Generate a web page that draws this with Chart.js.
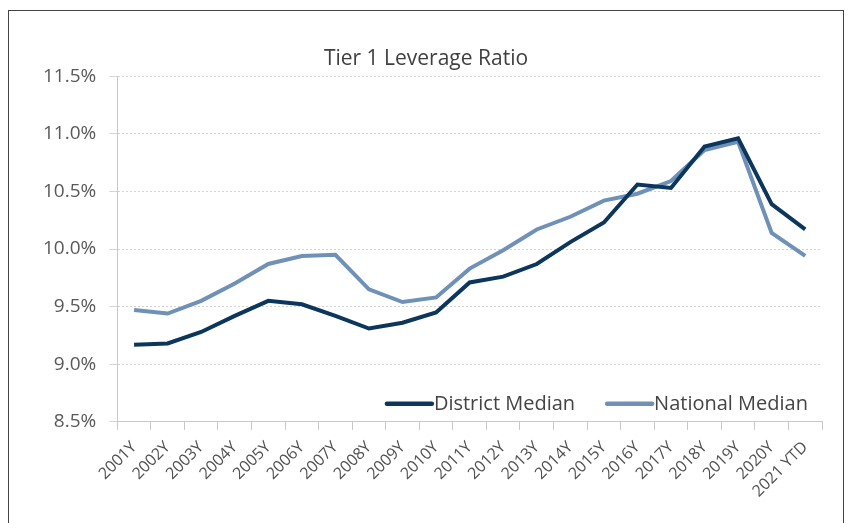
<!DOCTYPE html>
<html>
<head>
<meta charset="utf-8">
<script src="https://cdn.jsdelivr.net/npm/chart.js@4/dist/chart.umd.min.js"></script>
<style>
  html, body { margin: 0; padding: 0; background: #fff; }
  #frame { position: absolute; left: 8px; top: 10px; width: 836px; height: 540px; border: 1px solid #444; box-sizing: border-box; }
  #wrap { position: absolute; left: 0; top: 0; width: 856px; height: 523px; }
</style>
</head>
<body>
<div id="frame"></div>
<div id="wrap"><canvas id="myChart"></canvas></div>
<script>
var years = ["2001Y", "2002Y", "2003Y", "2004Y", "2005Y", "2006Y", "2007Y", "2008Y", "2009Y", "2010Y",
  "2011Y", "2012Y", "2013Y", "2014Y", "2015Y", "2016Y", "2017Y", "2018Y", "2019Y", "2020Y", "2021 YTD"];

var districtMedian = [9.17, 9.18, 9.28, 9.42, 9.55, 9.52, 9.42, 9.31, 9.36, 9.45,
  9.71, 9.76, 9.87, 10.06, 10.23, 10.56, 10.53, 10.89, 10.96, 10.39, 10.17];

var nationalMedian = [9.47, 9.44, 9.55, 9.70, 9.87, 9.94, 9.95, 9.65, 9.54, 9.58,
  9.83, 9.99, 10.17, 10.28, 10.42, 10.48, 10.59, 10.86, 10.93, 10.14, 9.94];

var seriesNames = ["District Median", "National Median"];
var seriesColors = ["#0c365b", "#6f91b8"];

var fontFam = "'Open Sans', sans-serif";

// legend drawn inside the plot, bottom right
var insideLegend = {
  id: "insideLegend",
  afterDraw: function(chart) {
    var ctx = chart.ctx;
    var area = chart.chartArea;
    var y = area.bottom - 18;
    ctx.save();
    ctx.font = "20px " + fontFam;
    ctx.textBaseline = "middle";
    var w0 = ctx.measureText(seriesNames[0]).width;
    var w1 = ctx.measureText(seriesNames[1]).width;
    var sample = 47, gap = 2, between = 30;
    var total = sample + gap + w0 + between + sample + gap + w1;
    var x = area.right - 14 - total;
    for (var i = 0; i < 2; i++) {
      ctx.strokeStyle = seriesColors[i];
      ctx.lineWidth = 4.5;
      ctx.lineCap = "round";
      ctx.beginPath();
      ctx.moveTo(x + 2, y);
      ctx.lineTo(x + sample, y);
      ctx.stroke();
      ctx.fillStyle = "#444";
      ctx.fillText(seriesNames[i], x + sample + gap, y);
      x += sample + gap + (i == 0 ? w0 : w1) + between;
    }
    ctx.restore();
  }
};

function getChart() {
  var ctx = document.getElementById("myChart").getContext("2d");
  var chart = new Chart(ctx, {
    type: "line",
    data: {
      labels: years,
      datasets: [{
        label: seriesNames[0],
        data: districtMedian,
        borderColor: seriesColors[0],
        backgroundColor: seriesColors[0],
        borderWidth: 4,
        pointRadius: 0,
        tension: 0
      }, {
        label: seriesNames[1],
        data: nationalMedian,
        borderColor: seriesColors[1],
        backgroundColor: seriesColors[1],
        borderWidth: 4,
        pointRadius: 0,
        tension: 0
      }]
    },
    options: {
      responsive: true,
      maintainAspectRatio: false,
      animation: false,
      layout: { padding: { left: 30, right: 34, top: 46, bottom: 14 } },
      plugins: {
        legend: { display: false },
        tooltip: { enabled: false },
        title: {
          display: true,
          text: "Tier 1 Leverage Ratio",
          color: "#404040",
          font: { family: fontFam, size: 21, weight: "normal" },
          padding: { top: 0, bottom: 5 }
        }
      },
      scales: {
        x: {
          offset: true,
          grid: { display: true, drawOnChartArea: false, offset: true, tickLength: 8, color: "#c8c8c8" },
          border: { color: "#c8c8c8" },
          ticks: {
            color: "#505050",
            font: { family: fontFam, size: 16 },
            minRotation: 45,
            maxRotation: 45,
            autoSkip: false,
            padding: 8
          }
        },
        y: {
          min: 8.5,
          max: 11.5,
          grid: { color: "#d4d4d4", tickLength: 8, lineWidth: 1 },
          border: { color: "#c8c8c8", dash: [2, 2] },
          ticks: {
            stepSize: 0.5,
            color: "#595959",
            padding: 13,
            font: { family: fontFam, size: 19 },
            callback: function(v) { return v.toFixed(1) + "%"; }
          }
        }
      }
    },
    plugins: [insideLegend]
  });
}

getChart();
</script>
</body>
</html>
